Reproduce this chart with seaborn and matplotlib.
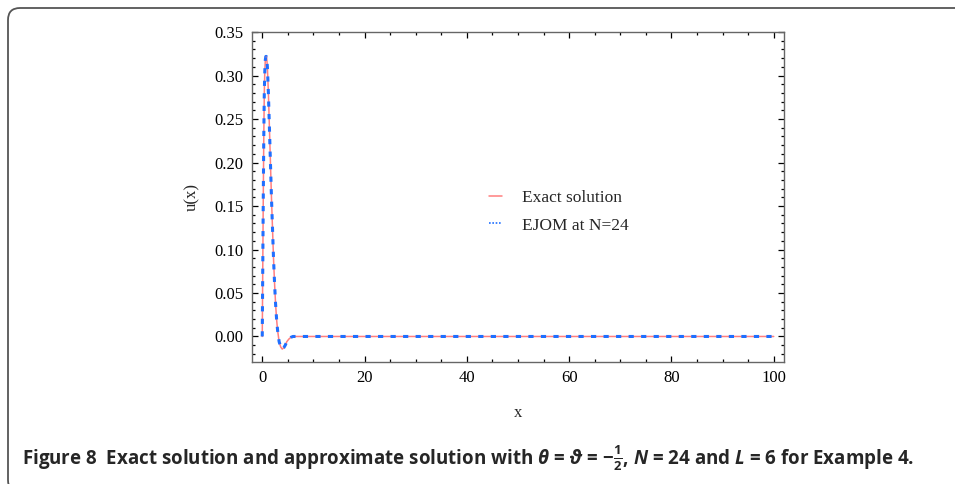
"""Exact vs EJOM approximate solution, Example 4."""

import matplotlib

matplotlib.use("Agg")

import matplotlib.pyplot as plt
import pandas as pd
import seaborn as sns
from matplotlib.patches import FancyBboxPatch
from matplotlib.ticker import MultipleLocator
from matplotlib.transforms import IdentityTransform

# values
x_vals = [0, 0.1, 0.2, 0.3, 0.4, 0.5, 0.6, 0.7, 0.8, 0.9, 1.0, 1.2, 1.4, 1.6,
          1.8, 2.0, 2.2, 2.4, 2.6, 2.8, 3.0, 3.3, 3.6, 3.9, 4.2, 4.5, 4.8,
          5.2, 5.6, 6.0, 7, 8, 10, 15, 20, 30, 40, 50, 60, 70, 80, 90, 100]
u_exact = [0.0, 0.08, 0.16, 0.23, 0.28, 0.305, 0.318, 0.322, 0.322, 0.318,
           0.31, 0.28, 0.24, 0.2, 0.16, 0.125, 0.09, 0.062, 0.038, 0.02,
           0.007, -0.006, -0.012, -0.0145, -0.013, -0.01, -0.006, -0.003,
           -0.001, 0.0, 0, 0, 0, 0, 0, 0, 0, 0, 0, 0, 0, 0, 0]
u_ejom = list(u_exact)

x_ticks = [0, 20, 40, 60, 80, 100]
y_ticks = [0.00, 0.05, 0.10, 0.15, 0.20, 0.25, 0.30, 0.35]

caption = (r"Figure 8  Exact solution and approximate solution with "
           r"$\theta$ = $\vartheta$ = $-\frac{1}{2}$, $N$ = 24 and $L$ = 6 for Example 4.")

sns.set_theme(style="ticks")
plt.rcParams.update({
    "font.family": ["Liberation Serif", "DejaVu Serif"],
    "mathtext.fontset": "custom",
    "mathtext.rm": "Open Sans:bold",
    "mathtext.it": "Open Sans:bold:italic",
    "mathtext.bf": "Open Sans:bold",
    "xtick.direction": "in",
    "ytick.direction": "in",
})

df = pd.DataFrame({"x": x_vals, "exact": u_exact, "ejom": u_ejom})

fig = plt.figure(figsize=(9.55, 4.84), dpi=100)
ax = fig.add_axes([0.2639, 0.2527, 0.557, 0.681])

sns.lineplot(data=df, x="x", y="exact", ax=ax, color="#ff7f7f", linewidth=1.1,
             label="Exact solution", sort=False)
sns.lineplot(data=df, x="x", y="ejom", ax=ax, color="#1f6fff", linewidth=2.2,
             linestyle=(0, (1.7, 2.4)), label="EJOM at N=24", sort=False)

ax.set_xlim(-2, 102)
ax.set_ylim(-0.029, 0.35)
ax.set_xticks(x_ticks)
ax.set_yticks(y_ticks)
ax.set_yticklabels([f"{v:.2f}" for v in y_ticks])
ax.xaxis.set_minor_locator(MultipleLocator(5))
ax.yaxis.set_minor_locator(MultipleLocator(0.01))
ax.tick_params(which="both", top=True, right=True, colors="black",
               labelsize=12, width=0.9)
ax.tick_params(which="major", length=4, pad=6)
ax.tick_params(which="minor", length=2.5)
for spine in ax.spines.values():
    spine.set_color("#666666")
    spine.set_linewidth(1.0)

ax.set_xlabel("x", fontsize=12, labelpad=14)
ax.set_ylabel("u(x)", fontsize=12, labelpad=10)

leg = ax.legend(loc="center left", bbox_to_anchor=(0.417, 0.455), frameon=False,
                fontsize=12.5, handlelength=0.7, handletextpad=1.2, labelspacing=0.65)
leg.get_lines()[1].set_linewidth(1.2)
leg.get_lines()[1].set_linestyle((0, (1, 1)))

# rounded page frame around the figure
frame = FancyBboxPatch((8, -8), 1000, 484, boxstyle="round,pad=0,rounding_size=12",
                       transform=IdentityTransform(), facecolor="none",
                       edgecolor="#555555", linewidth=1.3)
fig.add_artist(frame)

fig.text(22 / 955, 1 - 458 / 484, caption, ha="left", va="center",
         fontsize=13.5, fontweight="bold", family=["Open Sans", "DejaVu Sans"])

fig.savefig("out.png", dpi=100)
